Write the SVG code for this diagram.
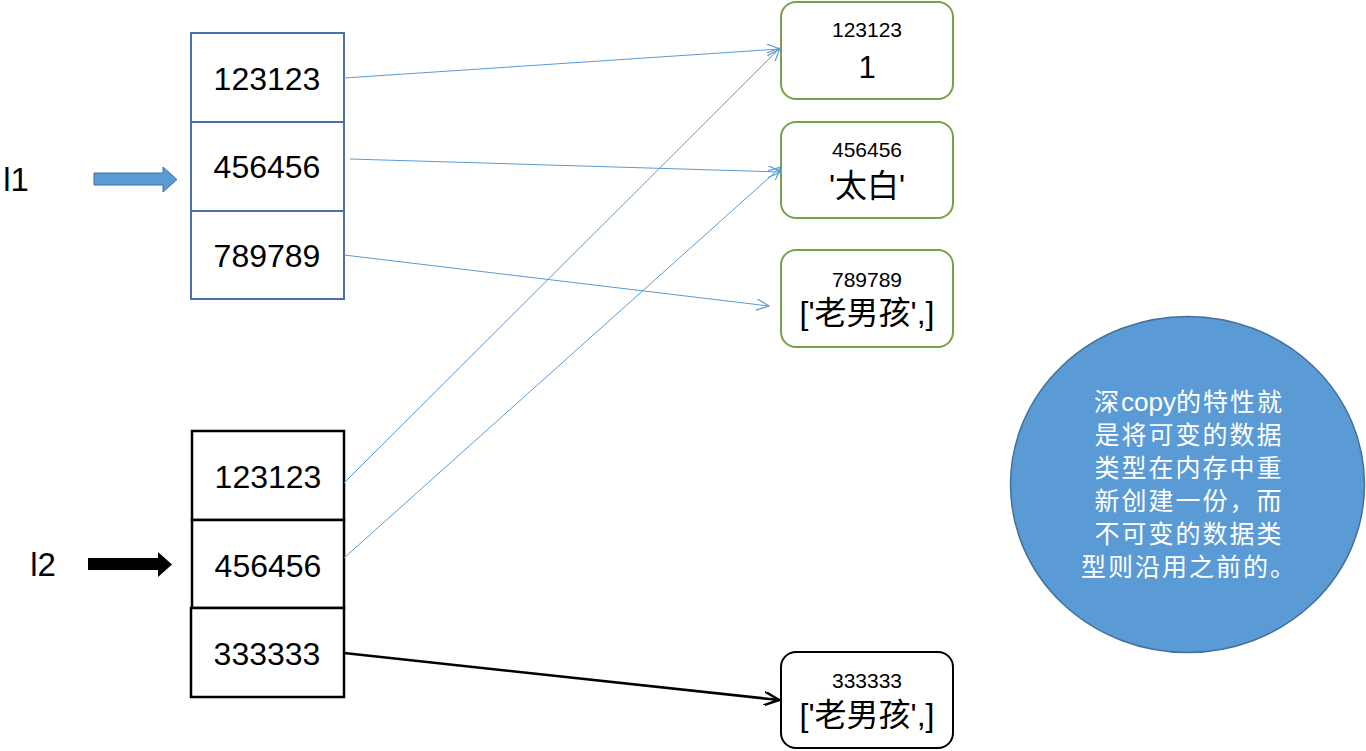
<svg xmlns="http://www.w3.org/2000/svg" width="1366" height="751" viewBox="0 0 1366 751">
<style>
.num{font-family:"Liberation Sans",Arial,sans-serif;font-size:32px;fill:#000;text-anchor:middle}
.sm{font-family:"Liberation Sans",Arial,sans-serif;font-size:21px;fill:#000;text-anchor:middle}
.cjk{font-family:"Liberation Sans","Noto Sans CJK SC",sans-serif;font-size:32px;fill:#000;text-anchor:middle}
.ct{font-family:"Noto Sans CJK SC",sans-serif;font-size:25px;letter-spacing:2px;fill:#fff;text-anchor:middle}
.lat{font-family:"Liberation Sans",sans-serif;letter-spacing:0;font-size:26px}
.c1{fill:#fff;stroke:#4a70ae;stroke-width:2}
.c2{fill:#fff;stroke:#000;stroke-width:2.5}
.vb{fill:#fff;stroke:#77a24a;stroke-width:2}
.vk{fill:#fff;stroke:#000;stroke-width:2}
.bl{stroke:#5b9bd5;stroke-width:1;fill:none}
.bk{stroke:#000;stroke-width:2.5;fill:none}
</style>
<defs>
<marker id="mb" viewBox="0 0 14 12" refX="13" refY="6" markerWidth="14" markerHeight="12" markerUnits="userSpaceOnUse" orient="auto">
<path d="M0,0 L13,6 L0,12" fill="none" stroke="#5b9bd5" stroke-width="1.2"/>
</marker>
<marker id="mk" viewBox="0 0 16 14" refX="15" refY="7" markerWidth="16" markerHeight="14" markerUnits="userSpaceOnUse" orient="auto">
<path d="M0,0 L15,7 L0,14" fill="none" stroke="#000" stroke-width="2.5"/>
</marker>
</defs>
<rect width="1366" height="751" fill="#fff"/>

<g id="l1-label"><text class="num" x="16" y="191" style="font-size:33px">l1</text></g>
<g id="l1-arrow"><path d="M94,173 H163 V167 L177,179.5 L163,192 V185 H94 Z" fill="#5b9bd5" stroke="#41719c" stroke-width="1"/></g>
<g id="l1-list">
<rect class="c1" x="191" y="33" width="153" height="89"/>
<rect class="c1" x="191" y="122" width="153" height="89"/>
<rect class="c1" x="191" y="211" width="153" height="88"/>
<text class="num" x="267" y="90">123123</text>
<text class="num" x="267" y="178">456456</text>
<text class="num" x="267" y="267">789789</text>
</g>

<g id="l2-label"><text class="num" x="43" y="576" style="font-size:33px">l2</text></g>
<g id="l2-arrow"><path d="M88,558 H158 V552 L172,564.5 L158,577 V570 H88 Z" fill="#000"/></g>
<g id="l2-list">
<rect class="c2" x="192" y="431" width="152" height="89"/>
<rect class="c2" x="192" y="520" width="152" height="88"/>
<rect class="c2" x="191" y="608" width="153" height="89"/>
<text class="num" x="268" y="488">123123</text>
<text class="num" x="268" y="577">456456</text>
<text class="num" x="267" y="665">333333</text>
</g>

<g id="v1"><rect class="vb" x="781" y="2" width="172" height="97" rx="15"/>
<text class="sm" x="867" y="37">123123</text>
<text class="num" x="867" y="78" style="font-size:31px">1</text></g>
<g id="v2"><rect class="vb" x="781" y="122" width="172" height="96" rx="15"/>
<text class="sm" x="867" y="157">456456</text>
<text class="cjk" x="867" y="197">'太白'</text></g>
<g id="v3"><rect class="vb" x="781" y="250" width="172" height="97" rx="15"/>
<text class="sm" x="867" y="287">789789</text>
<text class="cjk" x="867" y="324">['老男孩',]</text></g>
<g id="v4"><rect class="vk" x="781" y="652" width="172" height="96" rx="15"/>
<text class="sm" x="867" y="688">333333</text>
<text class="cjk" x="867" y="726">['老男孩',]</text></g>

<g id="note">
<ellipse cx="1187.5" cy="484.5" rx="177" ry="168" fill="#5b9bd5" stroke="#41719c" stroke-width="1.5"/>
<text class="ct" x="1189" y="411">深<tspan class="lat">copy</tspan>的特性就</text>
<text class="ct" x="1189" y="444">是将可变的数据</text>
<text class="ct" x="1189" y="477">类型在内存中重</text>
<text class="ct" x="1189" y="510">新创建一份，而</text>
<text class="ct" x="1189" y="543">不可变的数据类</text>
<text class="ct" x="1189" y="576">型则沿用之前的。</text>
</g>

<g id="connectors">
<line class="bl" x1="344" y1="78" x2="780" y2="49" marker-end="url(#mb)"/>
<line class="bl" x1="350" y1="159" x2="781" y2="172" marker-end="url(#mb)"/>
<line class="bl" x1="344" y1="255" x2="769" y2="306" marker-end="url(#mb)"/>
<line class="bl" x1="344" y1="483" x2="780" y2="48" marker-end="url(#mb)"/>
<line class="bl" x1="344" y1="558" x2="781" y2="167" marker-end="url(#mb)"/>
<line class="bk" x1="344" y1="653" x2="779" y2="700" marker-end="url(#mk)"/>
</g>
</svg>
